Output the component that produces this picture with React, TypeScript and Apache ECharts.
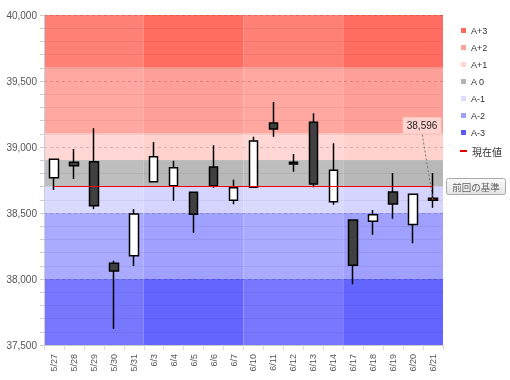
import React, { useEffect, useRef } from 'react';
import * as echarts from 'echarts';

const categories = ['5/27', '5/28', '5/29', '5/30', '5/31', '6/3', '6/4', '6/5', '6/6', '6/7', '6/10', '6/11', '6/12', '6/13', '6/14', '6/17', '6/18', '6/19', '6/20', '6/21'];
const opens = [38767, 38884, 38889, 38119, 38177, 38737, 38707, 38657, 38848, 38596, 38695, 39182, 38884, 39187, 38586, 38447, 38437, 38659, 38412, 38612];
const closes = [38907, 38858, 38555, 38061, 38492, 38927, 38843, 38490, 38705, 38692, 39045, 39136, 38871, 38720, 38823, 38104, 38487, 38568, 38642, 38596];
const lows = [38674, 38758, 38528, 37621, 38098, 38737, 38593, 38348, 38692, 38566, 38690, 39078, 38813, 38695, 38563, 37960, 38336, 38457, 38270, 38540];
const highs = [38907, 38985, 39142, 38139, 38530, 39038, 38896, 38657, 39013, 38752, 39078, 39341, 38947, 39255, 39028, 38447, 38523, 38803, 38642, 38803];

const bandNames = ['A+3', 'A+2', 'A+1', 'A 0', 'A-1', 'A-2', 'A-3'];
const bandLows = [39600, 39100, 38900, 38700, 38500, 38000, 37500];
const bandHighs = [40000, 39600, 39100, 38900, 38700, 38500, 38000];
const weekStartIdx = [0, 5, 10, 15];
const weekEndIdx = [5, 10, 15, 20];

const currentValue = 38705;
const lastLabelValue = 38596;
const yMin = 37500;
const yMax = 40000;
const yInterval = 500;

const bandLight = ['#FF8075', '#FFA8A1', '#FFD8D5', '#BEBEBE', '#DADAFF', '#AAAAFF', '#7878FF'];
const bandDark = ['#FF6C60', '#FFA098', '#FFD2CE', '#B8B8B8', '#D4D4FF', '#A0A0FF', '#6464FF'];
const legendColors = ['#FF6A5F', '#FFA099', '#FFD6D3', '#B4B4B4', '#DCDCFF', '#A0A0FF', '#5A5AFF'];

const FONT = 'Liberation Sans, Arial, sans-serif';
const JP = 'Noto Sans CJK JP, sans-serif';

export default function App() {
  const ref = useRef<HTMLDivElement>(null);
  useEffect(() => {
    if (!ref.current) return;
    const chart = echarts.init(ref.current, undefined, { renderer: 'svg' });

    const candleData = categories.map((c, i) => {
      const v = [opens[i], closes[i], lows[i], highs[i]];
      if (i === categories.length - 1) {
        return { value: v, itemStyle: { color: '#A01010', color0: '#A01010', borderColor: '#000', borderColor0: '#000' } };
      }
      return v;
    });

    const bandSeries = bandNames.map((name, b) => ({
      name,
      type: 'line',
      xAxisIndex: 1,
      yAxisIndex: 0,
      data: [],
      color: legendColors[b],
      silent: true,
      markArea: {
        silent: true,
        z: 1,
        label: { show: false },
        data: weekStartIdx.map((s, w) => [
          { xAxis: s, yAxis: bandLows[b], itemStyle: { color: w % 2 === 0 ? bandLight[b] : bandDark[b], opacity: 1, borderWidth: 0 } },
          { xAxis: weekEndIdx[w], yAxis: bandHighs[b] },
        ]),
      },
    }));

    chart.setOption({
      animation: false,
      grid: { left: 44, top: 15, width: 399, height: 330, containLabel: false },
      legend: [
        {
          data: bandNames,
          orient: 'vertical',
          left: 456,
          top: 21,
          itemWidth: 5,
          itemHeight: 5,
          itemGap: 8,
          icon: 'rect',
          selectedMode: false,
          textStyle: { fontSize: 9, color: '#333', fontFamily: FONT },
        },
        {
          data: ['現在値'],
          orient: 'vertical',
          left: 455,
          top: 141,
          itemWidth: 7,
          itemHeight: 2,
          icon: 'rect',
          selectedMode: false,
          textStyle: { fontSize: 10, color: '#333', fontFamily: JP },
        },
      ],
      xAxis: [
        {
          type: 'category',
          data: categories,
          boundaryGap: true,
          axisLine: { lineStyle: { color: '#ccc' } },
          axisTick: { show: true, length: 5, lineStyle: { color: '#ddd' } },
          axisLabel: { rotate: 90, fontSize: 9, color: '#555', margin: 9, fontFamily: FONT },
          splitLine: { show: false },
          z: 2,
        },
        { type: 'value', min: 0, max: categories.length, show: false },
      ],
      yAxis: {
        type: 'value',
        min: yMin,
        max: yMax,
        interval: yInterval,
        z: 2,
        axisLine: { show: true, lineStyle: { color: '#c8cce0' } },
        axisTick: { show: true, length: 4, lineStyle: { color: '#ccc' } },
        minorTick: { show: true, splitNumber: 5, length: 4, lineStyle: { color: '#ccc' } },
        axisLabel: {
          fontSize: 10,
          color: '#555',
          margin: 7,
          fontFamily: FONT,
          formatter: (v: number) => v.toLocaleString('en-US'),
        },
        splitLine: { show: true, lineStyle: { color: 'rgba(0,0,0,0.16)', type: [3, 3], width: 1 } },
        minorSplitLine: { show: true, lineStyle: { color: 'rgba(0,0,0,0.06)', width: 1 } },
      },
      series: [
        ...bandSeries,
        {
          name: '現在値',
          type: 'line',
          data: [],
          color: '#E00000',
          markLine: {
            silent: true,
            symbol: ['none', 'none'],
            label: { show: false },
            lineStyle: { color: '#F00000', width: 1, type: 'solid' },
            data: [[{ coord: [categories[0], currentValue] }, { coord: [categories[categories.length - 1], currentValue] }]],
          },
        },
        {
          name: 'price',
          type: 'candlestick',
          z: 3,
          barWidth: 9,
          data: candleData,
          itemStyle: {
            color: '#FFFFFF',
            color0: '#404040',
            borderColor: '#000000',
            borderColor0: '#000000',
            borderWidth: 1.5,
          },
        },
        {
          name: 'lastLabel',
          type: 'scatter',
          z: 4,
          symbolSize: 1,
          itemStyle: { color: 'rgba(0,0,0,0)' },
          data: [[categories.length - 1, lastLabelValue]],
          label: {
            show: true,
            position: 'inside',
            formatter: () => lastLabelValue.toLocaleString('en-US'),
            fontSize: 10,
            color: '#222',
            opacity: 1,
            fontFamily: FONT,
            backgroundColor: 'rgba(255,255,255,0.55)',
            padding: [3, 4, 3, 4],
            borderRadius: 1,
          },
          labelLayout: { dx: -11, dy: -75 },
          labelLine: { show: true, lineStyle: { color: '#777', type: [2, 2], width: 1, opacity: 1 } },
        },
      ],
      graphic: [
        {
          type: 'group',
          left: 446,
          top: 178,
          children: [
            {
              type: 'rect',
              shape: { x: 0, y: 0, width: 59, height: 16, r: 2 },
              style: {
                fill: new echarts.graphic.LinearGradient(0, 0, 0, 1, [
                  { offset: 0, color: '#FBFBFB' },
                  { offset: 1, color: '#E2E2E2' },
                ]),
                stroke: '#AAAAAA',
                lineWidth: 1,
              },
            },
            {
              type: 'text',
              x: 29.5,
              y: 8,
              style: { text: '前回の基準', fill: '#666', font: '9.5px "Noto Sans CJK JP"', align: 'center', verticalAlign: 'middle' },
            },
          ],
        },
      ],
    });
    return () => chart.dispose();
  }, []);
  return <div ref={ref} style={{ position: 'fixed', left: 0, top: 0, width: 510, height: 380 }} />;
}
